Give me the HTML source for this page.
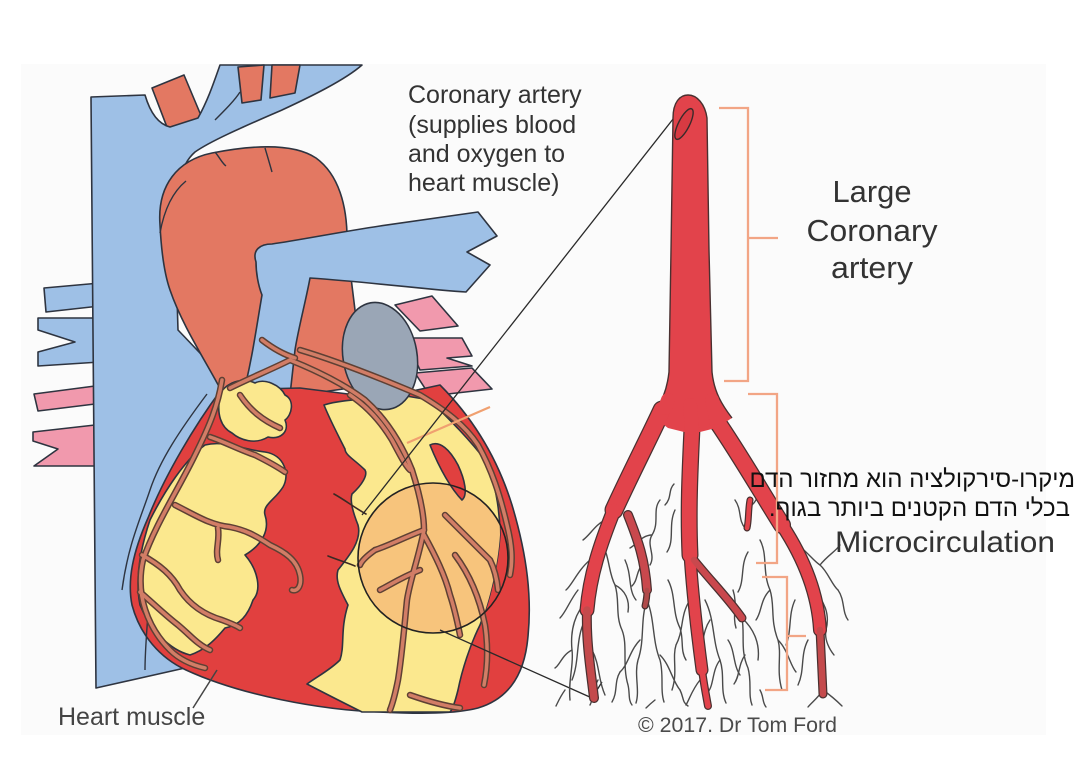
<!DOCTYPE html>
<html><head><meta charset="utf-8">
<style>
html,body{margin:0;padding:0;background:#fff;}
body{width:1080px;height:784px;position:relative;overflow:hidden;}
svg{position:absolute;left:0;top:0;}
.heb{position:absolute;font-family:"Liberation Sans","DejaVu Sans",sans-serif;font-size:24px;line-height:24px;color:#111;white-space:nowrap;direction:rtl;}
</style></head><body>
<svg width="1080" height="784" viewBox="0 0 1080 784" xmlns="http://www.w3.org/2000/svg">
<defs>
<clipPath id="circ"><circle cx="433" cy="558" r="75"/></clipPath>
</defs>
<rect width="1080" height="784" fill="#fff"/>
<rect x="21" y="64" width="1025" height="671" fill="#fbfbfb"/>

<g stroke="#2e3440" stroke-width="1.6" stroke-linejoin="round">
<path fill="#f199ad" d="M34,394 L95,386 L95,404 L38,411 Z"/>
<path fill="#f199ad" d="M33,432 L95,425 L95,466 L34,466 L58,449 L33,441 Z"/>
<path fill="#9ec0e6" d="M44,288 L100,283 L100,306 L46,312 Z"/>
<path fill="#9ec0e6" d="M38,318 L100,318 L100,362 L38,366 L38,352 L75,342 L38,330 Z"/>
<path fill="#e37862" d="M152,88 L184,75 L205,125 L170,135 Z"/>
<path fill="#9ec0e6" d="M91,97 L145,95 C150,112 158,124 170,127 L198,118 C208,100 214,82 220,65 L362,65 C345,80 310,97 282,110 C250,124 212,140 195,152 C180,165 175,190 175,230 L178,330 L240,395 L185,668 L96,688 C94,500 92,300 91,97 Z"/>
<path fill="#e37862" d="M238,67 L264,65 L261,100 L242,103 Z"/>
<path fill="#e37862" d="M272,65 L300,65 L295,93 L270,98 Z"/>
<path fill="#e37862" d="M160,225 C157,185 178,160 212,153 C248,146 292,142 316,158 C338,174 348,205 347,245 L355,310 C360,340 365,360 372,385 L300,395 L222,392 C205,360 182,325 170,290 C163,270 161,245 160,225 Z"/>
<path fill="#f199ad" d="M395,305 L432,296 L458,326 L420,331 Z"/>
<path fill="#f199ad" d="M405,338 L462,338 L472,356 L447,358 L472,366 L420,370 Z"/>
<path fill="#f199ad" d="M415,373 L472,368 L492,389 L430,396 Z"/>
<path fill="#9ec0e6" d="M256,262 C252,250 260,244 272,244 C300,240 340,232 380,226 L478,212 L497,236 L467,252 L490,265 L466,292 C430,290 380,283 310,278 C306,300 298,330 295,350 L290,395 L243,395 C252,360 256,330 262,295 C258,285 256,272 256,262 Z"/>
<path fill="#e1403f" d="M221,390 C195,425 165,475 148,518 C133,552 127,580 132,605 C140,635 160,658 186,670 C240,695 320,710 380,712 C420,714 455,714 478,708 C505,700 522,680 527,645 C533,600 527,555 512,505 C498,460 475,420 440,385 L380,398 L300,388 Z"/>
<path fill="#fbe88e" d="M221,392 C230,380 245,378 255,383 C265,378 280,385 285,395 C295,400 292,415 285,420 C290,432 280,440 268,437 C255,445 240,440 232,433 C222,428 215,415 221,392 Z"/>
<path fill="#fbe88e" d="M205,445 C225,440 245,450 265,452 C285,455 290,475 283,487 C275,500 262,505 265,515 C270,530 262,545 245,555 C258,570 262,590 253,600 C248,615 240,625 225,628 C215,640 205,650 190,655 C170,650 150,630 140,605 C135,580 140,550 150,520 C165,490 185,460 205,445 Z"/>
<path fill="#fbe88e" d="M324,405 C345,398 380,400 400,395 L430,400 C450,420 470,440 485,460 C495,480 500,510 500,535 C498,565 490,600 480,625 C470,645 462,670 458,690 C455,702 452,710 450,712 L362,712 C350,706 330,696 307,684 C318,676 330,670 340,660 C345,645 340,630 348,605 C340,590 335,580 338,570 C350,555 362,540 358,525 C352,510 350,500 352,494 C362,485 368,475 365,470 C355,460 345,455 345,449 C338,435 330,420 324,405 Z"/>
<path fill="#f7c47c" stroke="none" clip-path="url(#circ)" d="M324,405 C345,398 380,400 400,395 L430,400 C450,420 470,440 485,460 C495,480 500,510 500,535 C498,565 490,600 480,625 C470,645 462,670 458,690 C455,702 452,710 450,712 L362,712 C350,706 330,696 307,684 C318,676 330,670 340,660 C345,645 340,630 348,605 C340,590 335,580 338,570 C350,555 362,540 358,525 C352,510 350,500 352,494 C362,485 368,475 365,470 C355,460 345,455 345,449 C338,435 330,420 324,405 Z"/>
<path fill="#e1403f" d="M430,445 C440,440 450,450 458,465 C465,480 468,495 462,500 C452,490 440,470 430,445 Z"/>
<ellipse cx="380" cy="356" rx="37" ry="54" transform="rotate(-10 380 356)" fill="#9aa6b6"/>
</g>

<g stroke="#2e3440" stroke-width="1.4" fill="none">
<path d="M207,394 C180,430 160,460 150,490 C140,520 128,545 122,590"/>
<path d="M148,614 C146,640 145,655 145,670"/>
<path d="M160,233 C165,205 175,190 186,181"/>
<path d="M215,152 C220,158 222,163 226,166"/>
<path d="M265,148 C268,158 270,165 272,172"/>
<path d="M215,120 C225,110 235,100 240,92"/>
</g>

<g fill="none" stroke-linecap="round" stroke-linejoin="round">
<g stroke="#5e4034" stroke-width="6.5">
<path d="M222,380 C218,405 210,425 195,455 C178,490 155,525 143,560 C135,595 148,628 170,650 C180,660 192,665 205,668"/>
<path d="M175,505 C195,515 210,525 230,527 C245,530 255,535 270,545 C285,552 297,560 300,575 C302,585 298,592 292,590"/>
<path d="M218,528 C220,540 215,550 218,560"/>
<path d="M142,555 C160,565 172,575 180,590 C190,605 205,615 222,620 C230,623 237,626 240,628"/>
<path d="M140,592 C155,605 165,615 178,625 C190,635 198,645 210,650"/>
<path d="M210,437 C225,442 240,450 255,455 C265,460 275,465 285,472"/>
<path d="M240,395 C250,410 262,420 280,428"/>
<path d="M290,360 C320,372 345,385 365,400 C385,418 400,440 412,470 C420,495 424,515 424,530 C418,560 410,580 407,600 C404,630 402,655 398,680 C395,695 392,705 390,710"/>
<path d="M300,350 C340,362 380,378 420,395 C445,410 465,425 478,445 C492,470 500,495 507,525 C512,545 513,560 510,575"/>
<path d="M424,530 C405,537 390,545 375,550 C368,555 362,560 360,565"/>
<path d="M424,535 C435,555 445,575 450,595 C455,610 458,625 460,635"/>
<path d="M420,570 C400,578 390,585 380,590"/>
<path d="M445,515 C460,530 475,545 490,560 C495,570 497,580 498,590"/>
<path d="M455,555 C470,575 480,600 485,625 C488,645 488,665 484,685"/>
<path d="M410,695 C430,702 445,706 460,708"/>
<path d="M350,395 C365,405 380,420 392,440 C400,455 405,465 410,470"/>
<path d="M290,360 C270,370 250,378 230,388"/>
<path d="M262,340 C275,350 285,355 295,358"/>
</g>
<g stroke="#d27d66" stroke-width="3.5">
<path d="M222,380 C218,405 210,425 195,455 C178,490 155,525 143,560 C135,595 148,628 170,650 C180,660 192,665 205,668"/>
<path d="M175,505 C195,515 210,525 230,527 C245,530 255,535 270,545 C285,552 297,560 300,575 C302,585 298,592 292,590"/>
<path d="M218,528 C220,540 215,550 218,560"/>
<path d="M142,555 C160,565 172,575 180,590 C190,605 205,615 222,620 C230,623 237,626 240,628"/>
<path d="M140,592 C155,605 165,615 178,625 C190,635 198,645 210,650"/>
<path d="M210,437 C225,442 240,450 255,455 C265,460 275,465 285,472"/>
<path d="M240,395 C250,410 262,420 280,428"/>
<path d="M290,360 C320,372 345,385 365,400 C385,418 400,440 412,470 C420,495 424,515 424,530 C418,560 410,580 407,600 C404,630 402,655 398,680 C395,695 392,705 390,710"/>
<path d="M300,350 C340,362 380,378 420,395 C445,410 465,425 478,445 C492,470 500,495 507,525 C512,545 513,560 510,575"/>
<path d="M424,530 C405,537 390,545 375,550 C368,555 362,560 360,565"/>
<path d="M424,535 C435,555 445,575 450,595 C455,610 458,625 460,635"/>
<path d="M420,570 C400,578 390,585 380,590"/>
<path d="M445,515 C460,530 475,545 490,560 C495,570 497,580 498,590"/>
<path d="M455,555 C470,575 480,600 485,625 C488,645 488,665 484,685"/>
<path d="M410,695 C430,702 445,706 460,708"/>
<path d="M350,395 C365,405 380,420 392,440 C400,455 405,465 410,470"/>
<path d="M290,360 C270,370 250,378 230,388"/>
<path d="M262,340 C275,350 285,355 295,358"/>
</g>
<g stroke="#3a2a24" stroke-width="1.6">
<path d="M334,494 C345,500 355,508 366,514"/>
<path d="M328,556 C338,560 348,563 355,566"/>
</g>
</g>

<circle cx="433" cy="558" r="75" fill="none" stroke="#222" stroke-width="1.6"/>
<path d="M407,443 L490,407" stroke="#f0a070" stroke-width="2.2" fill="none"/>
<path d="M688,100 L362,515" stroke="#2a2a2a" stroke-width="1.3" fill="none"/>
<path d="M440,630 L592,698 L602,682" stroke="#2a2a2a" stroke-width="1.3" fill="none"/>
<path d="M193,708 L217,670" stroke="#444" stroke-width="1.5" fill="none"/>

<!-- capillaries -->
<g fill="none" stroke="#4a4a4a" stroke-width="1.4" stroke-linecap="round">
<path d="M647,600 C640,620 645,640 638,660 C634,675 640,690 636,703"/>
<path d="M647,600 C655,620 652,640 660,660 C664,675 660,690 664,702"/>
<path d="M640,640 C630,650 628,665 620,672"/>
<path d="M660,655 C670,665 672,680 680,690"/>
<path d="M590,560 C578,570 572,585 566,590"/>
<path d="M588,600 C575,612 570,630 572,650 C574,665 568,680 570,700"/>
<path d="M572,650 C562,655 560,665 555,668"/>
<path d="M592,650 C600,665 598,680 605,695"/>
<path d="M600,540 C610,555 608,572 615,585 C620,600 615,615 622,630 C628,645 622,665 628,685 C630,693 628,700 632,705"/>
<path d="M615,585 C625,590 630,600 628,612"/>
<path d="M660,500 C652,510 660,522 652,535 C646,545 656,555 650,565"/>
<path d="M652,535 C642,535 636,545 630,548"/>
<path d="M675,510 C668,525 675,540 667,552"/>
<path d="M665,505 C672,498 668,490 674,484"/>
<path d="M705,600 C715,620 712,640 720,660 C725,675 720,690 726,703"/>
<path d="M742,618 C745,635 740,650 748,668 C752,682 748,695 752,705"/>
<path d="M742,618 C755,630 760,645 758,660"/>
<path d="M728,640 C735,650 733,665 740,675"/>
<path d="M760,540 C768,555 762,572 770,590 C775,605 770,620 778,640 C782,655 776,670 782,690"/>
<path d="M748,552 C740,565 745,580 738,592"/>
<path d="M735,500 C742,510 738,520 745,528"/>
<path d="M752,505 C760,498 756,490 764,486"/>
<path d="M790,540 C805,548 812,560 820,565 C828,572 832,585 838,590"/>
<path d="M812,590 C825,600 830,615 826,630 C824,640 830,650 834,655"/>
<path d="M823,690 C830,695 836,700 842,706"/>
<path d="M823,690 C818,698 812,702 808,707"/>
<path d="M808,640 C800,655 805,670 798,685"/>
<path d="M690,600 C680,615 684,630 676,645 C672,658 678,672 672,690"/>
<path d="M700,680 C692,690 690,698 686,705"/>
<path d="M605,520 C595,525 590,535 583,540"/>
<path d="M585,620 C575,640 580,660 572,680"/>
<path d="M620,672 C614,682 618,692 612,702"/>
<path d="M680,690 C684,698 682,702 688,706"/>
<path d="M778,640 C788,650 790,665 796,672"/>
<path d="M770,590 C760,600 762,612 756,620"/>
<path d="M820,565 C828,555 835,552 840,545"/>
<path d="M598,680 C592,690 594,698 590,705"/>
<path d="M625,560 C632,575 628,590 636,600"/>
<path d="M668,580 C676,595 672,612 680,628 C684,640 680,650 686,660"/>
<path d="M710,620 C702,632 704,645 698,655"/>
<path d="M720,660 C712,670 714,685 708,692"/>
<path d="M733,590 C738,605 732,615 736,628"/>
<path d="M795,600 C788,615 792,630 786,645"/>
<path d="M838,590 C845,600 842,612 848,620"/>
<path d="M578,590 C570,600 566,612 560,618"/>
<path d="M565,690 C560,697 558,702 556,706"/>
<path d="M655,700 C650,704 648,706 646,708"/>
<path d="M760,690 C764,697 762,702 766,707"/>
<path d="M642,565 C636,572 638,580 632,586"/>
<path d="M745,655 C738,665 740,676 734,684"/>
</g>

<!-- right artery tree -->
<g fill="none" stroke-linecap="round" stroke-linejoin="round" stroke="#4a3030">
<path d="M662,410 C648,440 630,475 614,510" stroke-width="19"/>
<path d="M614,510 C600,545 590,575 587,610" stroke-width="15"/>
<path d="M587,610 C586,640 590,665 594,698" stroke-width="10"/>
<path d="M692,428 C690,470 688,510 690,555" stroke-width="17"/>
<path d="M690,555 C693,600 698,640 702,670" stroke-width="13"/>
<path d="M702,670 C704,685 706,695 708,706" stroke-width="8"/>
<path d="M716,420 C740,455 760,490 782,525" stroke-width="18"/>
<path d="M782,525 C805,560 818,595 820,630" stroke-width="14"/>
<path d="M820,630 C821,655 822,675 823,694" stroke-width="9"/>
<path d="M628,515 C638,540 645,560 647,590" stroke-width="10"/>
<path d="M647,590 C647,598 646,602 645,606" stroke-width="7"/>
<path d="M694,560 C710,580 728,598 742,618" stroke-width="9"/>
<path d="M750,500 C748,510 749,520 747,528" stroke-width="7"/>
</g>
<!-- trunk fill, no bottom outline -->
<path d="M673,118 C673,102 680,95 688,95 C697,95 705,104 707,118 L709,250 L712,372 C714,392 722,405 732,418 L716,428 L700,432 L684,432 L668,428 L652,416 C662,402 667,390 669,372 L671,250 Z" fill="#e2434b" stroke="none"/>
<path d="M732,418 C722,405 714,392 712,372 L709,250 L707,118 C705,104 697,95 688,95 C680,95 673,102 673,118 L671,250 L669,372 C667,390 662,402 652,416" fill="none" stroke="#4a3030" stroke-width="1.4"/>
<g fill="none" stroke-linecap="round" stroke-linejoin="round" stroke="#e2434b">
<path d="M662,410 C648,440 630,475 614,510" stroke-width="16.5"/>
<path d="M614,510 C600,545 590,575 587,610" stroke-width="12.5"/>
<path d="M587,610 C586,640 590,665 594,698" stroke-width="7.5" stroke="#c44a4c"/>
<path d="M692,428 C690,470 688,510 690,555" stroke-width="14.5"/>
<path d="M690,555 C693,600 698,640 702,670" stroke-width="10.5"/>
<path d="M702,670 C704,685 706,695 708,706" stroke-width="5.5"/>
<path d="M716,420 C740,455 760,490 782,525" stroke-width="15.5"/>
<path d="M782,525 C805,560 818,595 820,630" stroke-width="11.5"/>
<path d="M820,630 C821,655 822,675 823,694" stroke-width="6.5" stroke="#c44a4c"/>
<path d="M628,515 C638,540 645,560 647,590" stroke-width="7.5" stroke="#c9484d"/>
<path d="M647,590 C647,598 646,602 645,606" stroke-width="4.5" stroke="#b04a4a"/>
<path d="M694,560 C710,580 728,598 742,618" stroke-width="6.5" stroke="#c9484d"/>
<path d="M750,500 C748,510 749,520 747,528" stroke-width="4.5"/>
<path d="M668,400 L665,408 M712,400 L716,418 M690,405 L692,428" stroke-width="14"/>
</g>
<ellipse cx="684" cy="124" rx="5.5" ry="17" transform="rotate(27 684 124)" fill="#d83a42" stroke="#3a2a2a" stroke-width="1.4"/>

<g fill="none" stroke="#f2a585" stroke-width="2.3">
<path d="M719,108 L748,108 L748,381 L724,381"/>
<path d="M748,238 L778,238"/>
<path d="M748,394 L777,394 L777,563 L756,563"/>
<path d="M762,577 L787,577 L787,690 L765,690"/>
<path d="M787,636 L806,636"/>
</g>

<g font-family="Liberation Sans, Arial, sans-serif" fill="#333">
<text x="408" y="103" font-size="25">Coronary artery</text>
<text x="408" y="133" font-size="25">(supplies blood</text>
<text x="408" y="162" font-size="25">and oxygen to</text>
<text x="408" y="191" font-size="25">heart muscle)</text>
<text x="872" y="202" font-size="31" text-anchor="middle" textLength="79" lengthAdjust="spacingAndGlyphs">Large</text>
<text x="872" y="241" font-size="31" text-anchor="middle" textLength="131" lengthAdjust="spacingAndGlyphs">Coronary</text>
<text x="872" y="278" font-size="31" text-anchor="middle" textLength="82" lengthAdjust="spacingAndGlyphs">artery</text>
<text x="835" y="552" font-size="30" textLength="220" lengthAdjust="spacingAndGlyphs">Microcirculation</text>
<text x="58" y="725" font-size="25" fill="#444">Heart muscle</text>
<text x="638" y="732" font-size="21" fill="#4a4a4a" textLength="199" lengthAdjust="spacingAndGlyphs">© 2017. Dr Tom Ford</text>
</g>
</svg>
<div class="heb" style="right:5px;top:468px;">מיקרו-סירקולציה הוא מחזור הדם</div>
<div class="heb" style="right:10px;top:497px;">בכלי הדם הקטנים ביותר בגוף.</div>
</body></html>
